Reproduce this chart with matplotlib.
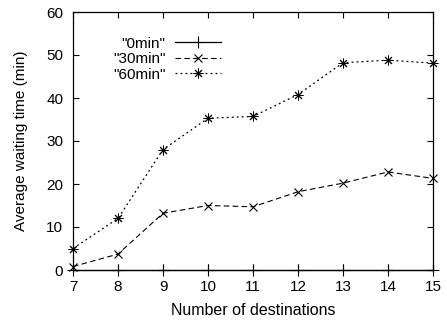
import matplotlib
matplotlib.use("Agg")
import matplotlib.pyplot as plt

plt.rcParams['font.family'] = ['Liberation Sans', 'DejaVu Sans']

# data
destinations = [7, 8, 9, 10, 11, 12, 13, 14, 15]
wait_0min = [0, 0, 0, 0, 0, 0, 0, 0, 0]
wait_30min = [0.8, 3.7, 13.2, 15.0, 14.7, 18.2, 20.2, 22.8, 21.3]
wait_60min = [5.0, 12.0, 28.0, 35.3, 35.7, 40.8, 48.2, 48.8, 48.1]

fig = plt.figure(figsize=(4.47, 3.21), dpi=100)
ax = fig.add_axes([73 / 447, 1 - 270 / 321, 360 / 447, 258 / 321])

ax.plot(destinations, wait_0min, color='black', linestyle='-', linewidth=0.9,
        marker='+', markersize=8, markeredgewidth=0.8, label='"0min"', clip_on=False)
ax.plot(destinations, wait_30min, color='black', linestyle=(0, (5, 3)), linewidth=0.8,
        marker='x', markersize=6, markeredgewidth=0.8, label='"30min"', clip_on=False)
ax.plot(destinations, wait_60min, color='black', linestyle=(0, (1.5, 2.5)), linewidth=0.9,
        marker=(8, 2, 0), markersize=7, markeredgewidth=0.7, label='"60min"', clip_on=False)

ax.set_xlim(7, 15)
ax.set_ylim(0, 60)
ax.set_xticks(destinations)
ax.set_yticks([0, 10, 20, 30, 40, 50, 60])
ax.tick_params(direction='in', top=True, right=True, labelsize=11, length=4, width=0.8, pad=7)
for s in ax.spines.values():
    s.set_linewidth(0.9)

ax.set_xlabel('Number of destinations', fontsize=11.5, labelpad=7)
ax.set_ylabel('Average waiting time (min)', fontsize=11, labelpad=13)

leg = ax.legend(loc='upper right', bbox_to_anchor=(0.41, 0.905), frameon=False, markerfirst=False,
                fontsize=11, handlelength=3.0, labelspacing=0.1, handletextpad=0.6,
                borderaxespad=0, borderpad=0)

fig.savefig('out.png', dpi=100)
